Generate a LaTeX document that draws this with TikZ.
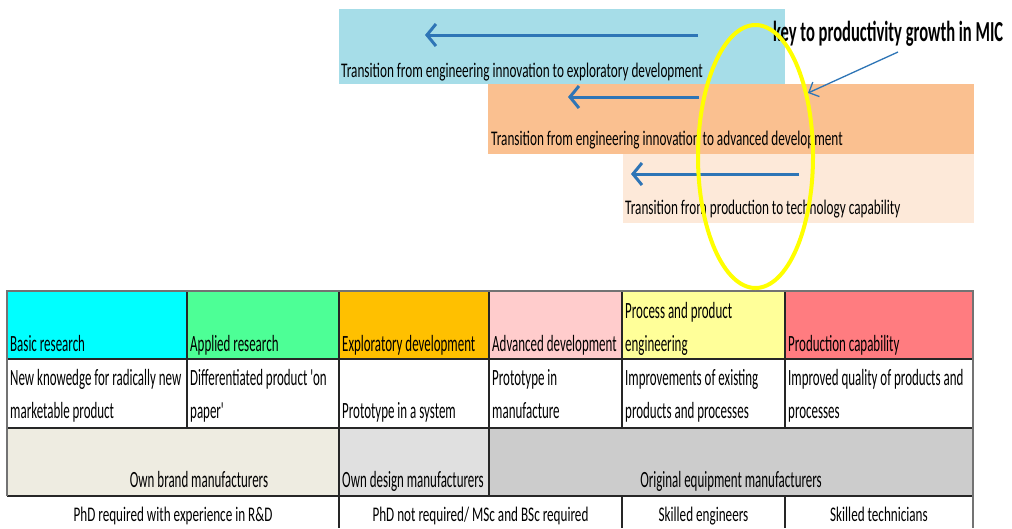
\documentclass[tikz,border=0pt]{standalone}
\usepackage{fontspec}
\setmainfont{Carlito}
\usetikzlibrary{arrows.meta}
\definecolor{boxblue}{RGB}{166,221,232}
\definecolor{boxorange}{RGB}{250,192,144}
\definecolor{boxpeach}{RGB}{253,233,217}
\definecolor{arrowblue}{RGB}{46,117,182}
\definecolor{hcyan}{RGB}{0,255,255}
\definecolor{hgreen}{RGB}{77,255,150}
\definecolor{horange}{RGB}{255,192,0}
\definecolor{hpink}{RGB}{255,204,204}
\definecolor{hyellow}{RGB}{255,255,153}
\definecolor{hred}{RGB}{255,124,128}
\definecolor{mbeige}{RGB}{238,236,225}
\definecolor{mlight}{RGB}{224,224,224}
\definecolor{mgray}{RGB}{204,204,204}
\definecolor{ringyellow}{RGB}{255,255,0}
\newcommand{\tx}[1]{\scalebox{0.556}[1]{#1}}
\newcommand{\ttx}[1]{\scalebox{0.636}[1]{#1}}
\newcommand{\btx}[1]{\scalebox{0.632}[1]{#1}}
\tikzset{
  lbl/.style={anchor=base west, inner sep=0pt, font=\fontsize{23.3pt}{28pt}\selectfont},
  clbl/.style={anchor=base, inner sep=0pt, font=\fontsize{23.3pt}{28pt}\selectfont},
  slbl/.style={anchor=base, inner sep=0pt, font=\fontsize{20.8pt}{25pt}\selectfont},
  tlbl/.style={anchor=base west, inner sep=0pt, font=\fontsize{20.8pt}{25pt}\selectfont},
  bigarrow/.style={draw=arrowblue, line width=3pt, -{Straight Barb[length=9pt,width=22pt]}},
  thinarrow/.style={draw=arrowblue, line width=1.3pt, -{Straight Barb[length=8pt,width=16pt]}},
  grid/.style={draw=black!85, line width=1.2pt},
  outer/.style={draw=black!55, line width=1.5pt},
}
\begin{document}
\begin{tikzpicture}[x=1pt,y=-1pt]
\useasboundingbox[fill=white] (0,0) rectangle (1012,528);
% top transition boxes
\fill[boxblue] (338.5,8.5) rectangle (785,83.5);
\fill[boxorange] (488,83.5) rectangle (974,154);
\fill[boxpeach] (622.5,154) rectangle (974,222.5);
\node[tlbl] (t1) at (341,77) {\ttx{Transition from engineering innovation to exploratory development}};
\node[tlbl] (t2) at (491,145) {\ttx{Transition from engineering innovation to advanced development}};
\node[tlbl] (t3) at (625,214) {\ttx{Transition from production to technology capability}};
\coordinate (a1s) at (698,35);
\coordinate (a1e) at (425,35);
\coordinate (a2s) at (699,97);
\coordinate (a2e) at (568,97);
\coordinate (a3s) at (799,174);
\coordinate (a3e) at (631,174);
\draw[bigarrow] (a1s) -- (a1e);
\draw[bigarrow] (a2s) -- (a2e);
\draw[bigarrow] (a3s) -- (a3e);
% key note
\node[anchor=base west, inner sep=0pt, font=\fontsize{29pt}{34pt}\selectfont\bfseries] (key) at (773,41) {\resizebox{230pt}{\height}{key to productivity growth in MIC}};
\coordinate (ks) at (898,52);
\coordinate (ke) at (808,93);
\draw[thinarrow] (ks) -- (ke);
% table fills
\fill[hcyan] (7,291) rectangle (187,359);
\fill[hgreen] (187,291) rectangle (339,359);
\fill[horange] (339,291) rectangle (489,359);
\fill[hpink] (489,291) rectangle (622,359);
\fill[hyellow] (622,291) rectangle (785,359);
\fill[hred] (785,291) rectangle (973,359);
\fill[mbeige] (7,428) rectangle (339,496);
\fill[mlight] (339,428) rectangle (489,496);
\fill[mgray] (489,428) rectangle (973,496);
% grid
\draw[grid] (7,359) -- (973,359);
\draw[grid] (7,428) -- (973,428);
\draw[grid] (7,496) -- (973,496);
\foreach \xx in {187,339,489,622,785} \draw[grid] (\xx,291) -- (\xx,428);
\draw[grid] (339,428) -- (339,528);
\draw[grid] (489,428) -- (489,496);
\draw[grid] (622,496) -- (622,528);
\draw[grid] (785,496) -- (785,528);
\draw[outer] (7,496) -- (7,291) -- (973,291) -- (973,528);
% header texts
\node[lbl] (h1) at (10,351) {\tx{Basic research}};
\node[lbl] (h2) at (190,351) {\tx{Applied research}};
\node[lbl] (h3) at (342,351) {\tx{Exploratory development}};
\node[lbl] (h4) at (492,351) {\tx{Advanced development}};
\node[lbl] (h5a) at (625,318) {\tx{Process and product}};
\node[lbl] (h5b) at (625,351) {\tx{engineering}};
\node[lbl] (h6) at (788,351) {\tx{Production capability}};
% outcome row
\node[lbl] (o1a) at (10,385) {\tx{New knowedge for radically new}};
\node[lbl] (o1b) at (10,418) {\tx{marketable product}};
\node[lbl] (o2a) at (190,385) {\tx{Differentiated product \textquotesingle on}};
\node[lbl] (o2b) at (190,418) {\tx{paper\textquotesingle}};
\node[lbl] (o3) at (342,418) {\tx{Prototype in a system}};
\node[lbl] (o4a) at (492,385) {\tx{Prototype in}};
\node[lbl] (o4b) at (492,418) {\tx{manufacture}};
\node[lbl] (o5a) at (625,385) {\tx{Improvements of existing}};
\node[lbl] (o5b) at (625,418) {\tx{products and processes}};
\node[lbl] (o6a) at (788,385) {\tx{Improved quality of products and}};
\node[lbl] (o6b) at (788,418) {\tx{processes}};
% manufacturer row
\node[clbl] (m1) at (199,487) {\tx{Own brand manufacturers}};
\node[lbl] (m2) at (342,487) {\tx{Own design manufacturers}};
\node[clbl] (m3) at (731,487) {\tx{Original equipment manufacturers}};
% skills row
\node[slbl] (s1) at (173,521) {\btx{PhD required with experience in R\&D}};
\node[slbl] (s2) at (480.5,521) {\btx{PhD not required/ MSc and BSc required}};
\node[slbl] (s3) at (703.5,521) {\btx{Skilled  engineers}};
\node[slbl] (s4) at (879,521) {\btx{Skilled technicians}};
% yellow ring
\draw[ringyellow, line width=4pt] (755.5,156.5) ellipse [x radius=57.5, y radius=131.5];
\end{tikzpicture}
\end{document}
